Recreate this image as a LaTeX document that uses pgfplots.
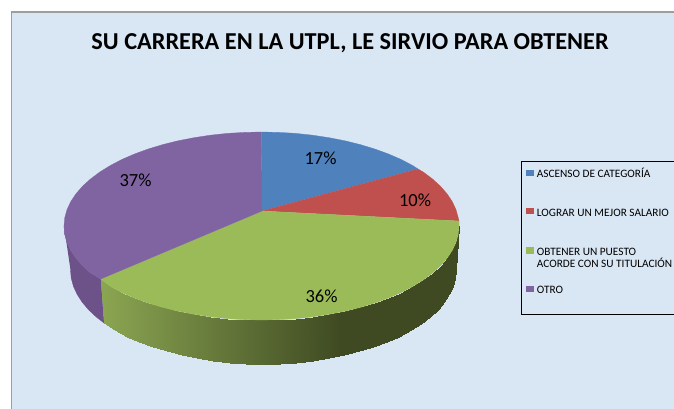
\documentclass[border=0pt]{standalone}
\usepackage{fontspec}
\setmainfont{Carlito}
\usepackage{pgfplots}
\pgfplotsset{compat=1.18}
\definecolor{panel}{HTML}{D9E6F4}
\definecolor{pblue}{HTML}{4F81BD}
\definecolor{pred}{HTML}{C0504D}
\definecolor{pgreen}{HTML}{9BBB59}
\definecolor{ppurple}{HTML}{8064A2}
\definecolor{pwall}{HTML}{6C5289}
\begin{document}
\begin{tikzpicture}
\begin{axis}[
    hide axis,
    scale only axis,
    width=674pt, height=409pt,
    xmin=0, xmax=674, ymin=0, ymax=409,
    y dir=reverse,
    colormap={wallgreen}{rgb255(0)=(139,166,82) rgb255(240)=(63,74,34) rgb255(360)=(63,74,34)},
    point meta min=100, point meta max=460,
]
% page and panel
\addplot[fill=white, draw=none] coordinates {(0,0) (674,0) (674,409) (0,409)};
\addplot[fill=panel, draw=none] coordinates {(11.5,12) (674,12) (674,409) (11.5,409)};
\addplot[draw=black!38, line width=1.2pt] coordinates {(11.5,409) (11.5,12) (674,12)};

% side wall, purple
\addplot[fill=pwall, draw=pwall, line width=0.3pt] coordinates {
    (64,226) (64.75,234.2) (67,242.3) (70.7,250.3) (75.9,258.1) (82.5,265.7) (90.5,273) (100.7,279)
    (104,323) (96.3,317) (88.5,309.7) (82.1,302.1) (77.1,294.3) (73.4,286.3) (71.2,278.2) (70.5,270)
};
% side wall, green: upper rim then lower rim, colour follows x
\addplot[surf, shader=interp, mesh/rows=2, point meta=explicit] table[meta=c] {
x y c
100.7 279 100.7
110.2 286.4 110.2
121.8 292.5 121.8
134.5 298 134.5
148.2 303 148.2
162.75 307.4 162.75
178 311.2 178
194 314.3 194
210.4 316.8 210.4
227.2 318.6 227.2
244.3 319.6 244.3
261.5 320 261.5
278.7 319.6 278.7
295.8 318.6 295.8
312.6 316.8 312.6
329 314.3 329
345 311.2 345
360.25 307.4 360.25
374.8 303 374.8
388.5 298 388.5
401.2 292.5 401.2
412.8 286.4 412.8
423.3 279.9 423.3
432.5 273 432.5
440.5 265.7 440.5
447.1 258.1 447.1
452.3 250.3 452.3
456 242.3 456
458.25 234.2 458.25
459 226 459
104 323 104
115.5 330.4 115.5
126.9 336.5 126.9
139.3 342 139.3
152.6 347 152.6
166.75 351.4 166.75
181.6 355.2 181.6
197.2 358.3 197.2
213.2 360.8 213.2
229.6 362.6 229.6
246.2 363.6 246.2
263 364 263
279.8 363.6 279.8
296.4 362.6 296.4
312.8 360.8 312.8
328.8 358.3 328.8
344.4 355.2 344.4
359.25 351.4 359.25
373.4 347 373.4
386.7 342 386.7
399.1 336.5 399.1
410.5 330.4 410.5
420.7 323.9 420.7
429.7 317 429.7
437.5 309.7 437.5
443.9 302.1 443.9
448.9 294.3 448.9
452.6 286.3 452.6
454.8 278.2 454.8
455.5 270 455.5
};

% top faces
\addplot[fill=pblue, draw=pblue, line width=0.3pt] coordinates {
    (262,211) (261.5,132) (278.7,132.4) (295.8,133.4) (312.6,135.2) (329,137.7) (345,140.8)
    (360.25,144.6) (374.8,149) (388.5,154) (401.2,159.5) (412.8,165.6) (418,169)
};
\addplot[fill=pred, draw=pred, line width=0.3pt] coordinates {
    (262,211) (418,169) (423.3,172.1) (432.5,179) (440.5,186.3) (447.1,193.9) (452.3,201.7)
    (456,209.7) (458.25,217.8) (459,221)
};
\addplot[fill=pgreen, draw=pgreen, line width=0.3pt] coordinates {
    (262,211) (459,221) (459,226) (458.25,234.2) (456,242.3) (452.3,250.3) (447.1,258.1)
    (440.5,265.7) (432.5,273) (423.3,279.9) (412.8,286.4) (401.2,292.5) (388.5,298) (374.8,303)
    (360.25,307.4) (345,311.2) (329,314.3) (312.6,316.8) (295.8,318.6) (278.7,319.6) (261.5,320)
    (244.3,319.6) (227.2,318.6) (210.4,316.8) (194,314.3) (178,311.2) (162.75,307.4) (148.2,303)
    (134.5,298) (121.8,292.5) (110.2,286.4) (100.7,279)
};
\addplot[fill=ppurple, draw=ppurple, line width=0.3pt] coordinates {
    (262,211) (100.7,279) (90.5,273) (82.5,265.7) (75.9,258.1) (70.7,250.3) (67,242.3) (64.75,234.2)
    (64,226) (64.75,217.8) (67,209.7) (70.7,201.7) (75.9,193.9) (82.5,186.3) (90.5,179) (99.7,172.1)
    (110.2,165.6) (121.8,159.5) (134.5,154) (148.2,149) (162.75,144.6) (178,140.8) (194,137.7)
    (210.4,135.2) (227.2,133.4) (244.3,132.4) (261.5,132)
};

% share labels
\node[font=\fontsize{18.5}{18.5}\selectfont] at (axis cs:320.5,158) {17\%};
\node[font=\fontsize{18.5}{18.5}\selectfont] at (axis cs:415,200) {10\%};
\node[font=\fontsize{18.5}{18.5}\selectfont] at (axis cs:321.5,296) {36\%};
\node[font=\fontsize{18.5}{18.5}\selectfont] at (axis cs:135.5,180) {37\%};

% title
\node[font=\fontsize{24.3}{24.3}\selectfont\bfseries] at (axis cs:350,43.5) {SU CARRERA EN LA UTPL, LE SIRVIO PARA OBTENER};

% legend
\addplot[draw=black, line width=0.8pt] coordinates {(674.5,161.5) (521.5,161.5) (521.5,314) (674.5,314)};
\addplot[fill=pblue, draw=none] coordinates {(526,170) (534.3,170) (534.3,175.7) (526,175.7)};
\addplot[fill=pred, draw=none] coordinates {(526,208.3) (534.3,208.3) (534.3,214) (526,214)};
\addplot[fill=pgreen, draw=none] coordinates {(526,247) (534.3,247) (534.3,254) (526,254)};
\addplot[fill=ppurple, draw=none] coordinates {(526,286) (534.3,286) (534.3,292.3) (526,292.3)};
\tikzset{lg/.style={font=\fontsize{11.3}{11.3}\selectfont, anchor=west, inner sep=0pt}}
\node[lg] at (axis cs:536.7,173.3) {ASCENSO DE CATEGORÍA};
\node[lg] at (axis cs:536.7,212.7) {LOGRAR UN MEJOR SALARIO};
\node[lg] at (axis cs:536.7,251.7) {OBTENER UN PUESTO};
\node[lg] at (axis cs:536.7,263.3) {ACORDE CON SU TITULACIÓN};
\node[lg] at (axis cs:536.7,289.7) {OTRO};
\end{axis}
\end{tikzpicture}
\end{document}
